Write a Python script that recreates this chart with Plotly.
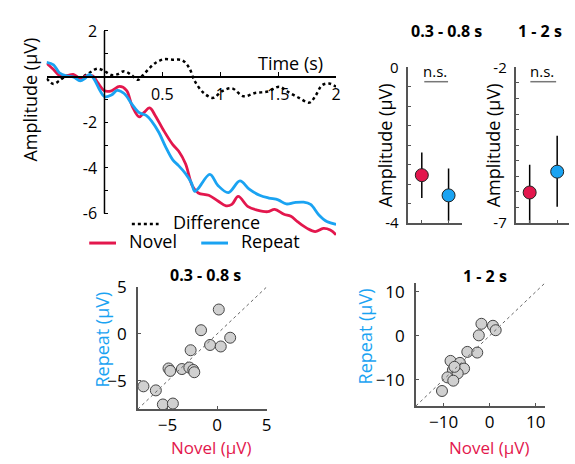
import plotly.graph_objects as go
import numpy as np

W, H = 575, 464
def px(x): return x / W
def py(y): return 1 - y / H

RED = '#E3174D'
BLUE = '#1AA3F2'
FONT = 'Open Sans'

# ---- time course data ----
novel_t = [-0.5,-0.44,-0.39,-0.33,-0.27,-0.21,-0.16,-0.1,-0.06,0.0,0.06,0.13,0.19,0.24,0.3,0.34,0.39,0.44,0.51,0.59,0.64,0.70,0.76,0.81,0.90,0.98,1.05,1.10,1.155,1.24,1.32,1.41,1.47,1.55,1.61,1.67,1.75,1.82,1.89,1.95,2.0]
novel_v = [0.59,0.31,0.05,0.03,0.1,-0.07,0.03,0.03,-0.25,-0.62,-0.62,-0.43,-0.6,-1.3,-1.76,-1.58,-1.37,-1.72,-2.35,-2.98,-3.26,-3.82,-4.8,-5.1,-5.2,-5.45,-5.66,-5.6,-5.25,-5.7,-5.85,-5.92,-5.82,-6.03,-6.12,-6.37,-6.65,-6.79,-6.65,-6.72,-6.93]

repeat_t = [-0.5,-0.44,-0.39,-0.33,-0.27,-0.21,-0.17,-0.13,-0.09,-0.04,0.0,0.06,0.11,0.17,0.24,0.30,0.36,0.41,0.47,0.53,0.59,0.64,0.70,0.75,0.78,0.81,0.91,0.98,1.07,1.17,1.25,1.34,1.42,1.50,1.57,1.64,1.72,1.78,1.85,1.92,2.0]
repeat_v = [0.63,0.52,0.17,0.03,-0.01,-0.18,-0.08,0.1,-0.11,-0.6,-0.88,-0.81,-0.6,-0.74,-1.23,-1.58,-1.7,-1.97,-2.45,-3.1,-3.65,-3.9,-4.25,-4.65,-5.03,-4.9,-4.28,-4.77,-5.08,-4.57,-4.93,-5.2,-5.32,-5.4,-5.58,-5.52,-5.5,-5.6,-6.05,-6.35,-6.47]

diff_t = [-0.5,-0.44,-0.39,-0.33,-0.27,-0.21,-0.13,-0.06,0.0,0.06,0.11,0.17,0.23,0.29,0.33,0.39,0.44,0.51,0.59,0.67,0.73,0.78,0.86,0.94,1.01,1.10,1.20,1.30,1.41,1.51,1.58,1.68,1.77,1.82,1.88,1.94,2.0]
diff_v = [-0.08,-0.32,-0.18,0.03,0.03,-0.04,0.17,0.35,0.24,0.07,0.1,0.24,0.08,-0.14,0.05,0.38,0.6,0.76,0.74,0.72,0.4,-0.2,-0.73,-0.93,-0.65,-0.51,-0.86,-0.72,-0.65,-0.44,-0.65,-0.93,-1.14,-0.86,-0.37,-0.3,-0.44]

# ---- window means ----
cond_x = [1, 2]
early_mean = [-2.77, -3.29]
early_lo = [-3.36, -3.95]
early_hi = [-2.19, -2.60]
late_mean = [-6.02, -5.35]
late_lo = [-7.0, -6.48]
late_hi = [-5.13, -4.20]

# ---- per-subject scatter ----
early_novel = [0.17,-1.62,1.32,-0.71,0.37,-2.67,-4.9,-4.73,-3.55,-2.8,-2.4,-2.3,-7.43,-6.18,-5.47,-4.46]
early_repeat = [2.6,0.4,-0.4,-1.17,-1.33,-1.73,-3.67,-3.93,-3.73,-3.57,-3.83,-4.07,-5.57,-6.0,-7.5,-7.4]
late_novel = [-1.8,0.7,1.3,-2.36,-4.86,-2.7,-8.5,-6.46,-5.56,-7.99,-6.94,-9.17,-7.9,-10.35,-7.64]
late_repeat = [2.7,2.25,1.24,0.07,-3.7,-3.85,-5.75,-6.2,-7.5,-7.85,-8.6,-9.5,-10.25,-12.6,-7.1]

fig = go.Figure()

fig.add_trace(go.Scatter(x=diff_t, y=diff_v, mode='lines', line=dict(color='black', width=2.5, dash='dot', shape='spline'), xaxis='x', yaxis='y', showlegend=False))
fig.add_trace(go.Scatter(x=novel_t, y=novel_v, mode='lines', line=dict(color=RED, width=2.8, shape='spline'), xaxis='x', yaxis='y', showlegend=False))
fig.add_trace(go.Scatter(x=repeat_t, y=repeat_v, mode='lines', line=dict(color=BLUE, width=2.8, shape='spline'), xaxis='x', yaxis='y', showlegend=False))

def err_trace(x, m, lo, hi, color, xa, ya):
    return go.Scatter(x=[x], y=[m], mode='markers',
                      error_y=dict(type='data', symmetric=False, array=[hi - m], arrayminus=[m - lo], color='black', thickness=1.5, width=0),
                      marker=dict(color=color, size=13, line=dict(color='#222', width=1)),
                      xaxis=xa, yaxis=ya, showlegend=False)
cols = [RED, BLUE]
for i in range(2):
    fig.add_trace(err_trace(cond_x[i], early_mean[i], early_lo[i], early_hi[i], cols[i], 'x2', 'y2'))
    fig.add_trace(err_trace(cond_x[i], late_mean[i], late_lo[i], late_hi[i], cols[i], 'x3', 'y3'))

fig.add_trace(go.Scatter(x=early_novel, y=early_repeat, mode='markers', marker=dict(color='#d0d0d0', size=11, line=dict(color='#444', width=1)), xaxis='x4', yaxis='y4', showlegend=False))
fig.add_trace(go.Scatter(x=late_novel, y=late_repeat, mode='markers', marker=dict(color='#d0d0d0', size=11, line=dict(color='#444', width=1)), xaxis='x5', yaxis='y5', showlegend=False))

tf_time = dict(family=FONT, size=16, color='black')
tf_win = dict(family=FONT, size=15, color='black')
tf_sc = dict(family=FONT, size=17, color='black')
AX = '#555'

y0px = 67.7
unit = 23.9
ytop, ybot = 2.2, -7.0
dom_y = [py(y0px - ybot * unit), py(y0px - ytop * unit)]
layout = dict(
    width=W, height=H, margin=dict(l=0, r=0, t=0, b=0),
    paper_bgcolor='white', plot_bgcolor='white', showlegend=False,
    xaxis=dict(domain=[px(47), px(339)], range=[-0.5, 2], anchor='free', position=py(y0px),
               showline=True, linecolor='black', linewidth=1.5, showgrid=False, zeroline=False,
               tickvals=[0, 0.5, 1, 1.5, 2], ticktext=['', '0.5', '1', '1.5', '2'],
               ticks='inside', ticklen=4, tickcolor='black', tickfont=tf_time, ticklabelstandoff=3),
    yaxis=dict(domain=dom_y, range=[ybot, ytop], anchor='free', position=px(104),
               showline=False, showgrid=False, zeroline=False,
               tickvals=[2, 1, 0, -1, -2, -3, -4, -5, -6], ticktext=['2', '', '', '', '-2', '', '-4', '', '-6'],
               ticks='inside', ticklen=4, tickcolor='black', tickfont=tf_time, ticklabelstandoff=6),
)

wdom = [py(221), py(58)]
def win_x(d0, d1, rng, ya):
    return dict(domain=[px(d0), px(d1)], range=rng, anchor=ya, showline=True, linecolor=AX, linewidth=1.5,
                showgrid=False, zeroline=False, tickvals=[1, 2], ticktext=['', ''], ticks='inside', ticklen=3, tickcolor=AX)
def win_y(rng, lab_top, lab_bot, xa, step):
    vals = list(np.arange(rng[0], rng[1] + 1e-9, step))
    txt = [''] * len(vals)
    txt[0] = lab_bot; txt[-1] = lab_top
    return dict(domain=wdom, range=rng, anchor=xa, showline=True, linecolor=AX, linewidth=1.5,
                showgrid=False, zeroline=False, tickvals=vals, ticktext=txt, ticks='inside', ticklen=3,
                tickcolor=AX, tickfont=tf_win, ticklabelstandoff=5)
layout['xaxis2'] = win_x(412, 466, [0.5, 2.5], 'y2')
layout['yaxis2'] = win_y([-4, 0], '0', '-4', 'x2', 0.5)
layout['xaxis3'] = win_x(521, 574, [0.52, 2.43], 'y3')
layout['yaxis3'] = win_y([-7, -2], '-2', '-7', 'x3', 0.5)

def sc_ax(dom, rng, anchor, vals, standoff):
    return dict(domain=dom, range=rng, anchor=anchor, showline=True, linecolor=AX, linewidth=1.5,
                showgrid=False, zeroline=False, tickvals=vals, ticks='inside', ticklen=3, tickcolor=AX,
                tickfont=tf_sc, ticklabelstandoff=standoff)
layout['xaxis4'] = sc_ax([px(139), px(269)], [-8, 5], 'y4', [-5, 0, 5], 0)
layout['yaxis4'] = sc_ax([py(416), py(288)], [-8, 5], 'x4', [-5, 0, 5], 6)
layout['xaxis5'] = sc_ax([px(419.6), px(549.8)], [-16, 12], 'y5', [-10, 0, 10], 0)
layout['yaxis5'] = sc_ax([py(412.6), py(283.8)], [-16, 12], 'x5', [-10, 0, 10], 6)

fig.update_layout(**layout)

shapes = []
shapes.append(dict(type='line', xref='x', yref='y', x0=0, x1=0, y0=-6, y1=2, line=dict(color='black', width=1.5)))
shapes.append(dict(type='line', xref='x4', yref='y4', x0=-8, y0=-8, x1=5, y1=5, line=dict(color='#666', width=1, dash='dot')))
shapes.append(dict(type='line', xref='x5', yref='y5', x0=-16, y0=-16, x1=12, y1=12, line=dict(color='#666', width=1, dash='dot')))
shapes.append(dict(type='line', xref='paper', yref='paper', x0=px(428), x1=px(452), y0=py(73), y1=py(73), line=dict(color='#777', width=1.5)))
shapes.append(dict(type='line', xref='paper', yref='paper', x0=px(535), x1=px(561), y0=py(73), y1=py(73), line=dict(color='#777', width=1.5)))
shapes.append(dict(type='line', xref='paper', yref='paper', x0=px(133), x1=px(160), y0=py(222), y1=py(222), line=dict(color='black', width=2.5, dash='dot')))
shapes.append(dict(type='line', xref='paper', yref='paper', x0=px(90), x1=px(117), y0=py(242), y1=py(242), line=dict(color=RED, width=3)))
shapes.append(dict(type='line', xref='paper', yref='paper', x0=px(203), x1=px(230), y0=py(242), y1=py(242), line=dict(color=BLUE, width=3)))
fig.update_layout(shapes=shapes)

def ann(text, x, y, size=17, color='black', bold=False, angle=0, xanchor='center'):
    t = f'<b>{text}</b>' if bold else text
    return dict(text=t, x=px(x), y=py(y), xref='paper', yref='paper', showarrow=False,
                font=dict(family=FONT, size=size, color=color), textangle=angle,
                xanchor=xanchor, yanchor='middle')

anns = [
    ann('Amplitude (µV)', 30, 92, size=18, angle=-90),
    ann('Time (s)', 293, 53, size=18),
    ann('Difference', 172, 220, size=18, xanchor='left'),
    ann('Novel', 128, 240, size=18, xanchor='left'),
    ann('Repeat', 241, 240, size=18, xanchor='left'),
    ann('0.3 - 0.8 s', 450, 20, size=16, bold=True),
    ann('1 - 2 s', 545, 20, size=16, bold=True),
    ann('Amplitude (µV)', 388, 140, size=18, angle=-90),
    ann('Amplitude (µV)', 497, 140, size=18, angle=-90),
    ann('n.s.', 439, 62, size=15),
    ann('n.s.', 547, 62, size=15),
    ann('0.3 - 0.8 s', 207, 275, size=16, bold=True),
    ann('1 - 2 s', 489, 277, size=16, bold=True),
    ann('Repeat (µV)', 103, 343, size=18, color=BLUE, angle=-90),
    ann('Repeat (µV)', 368, 340, size=18, color=BLUE, angle=-90),
    ann('Novel (µV)', 213, 456, size=17, color=RED),
    ann('Novel (µV)', 493, 456, size=17, color=RED),
]
fig.update_layout(annotations=anns)

fig.write_html('out.html', config={'displayModeBar': False},
               post_script="document.body.style.margin='0';document.body.style.overflow='hidden';")
